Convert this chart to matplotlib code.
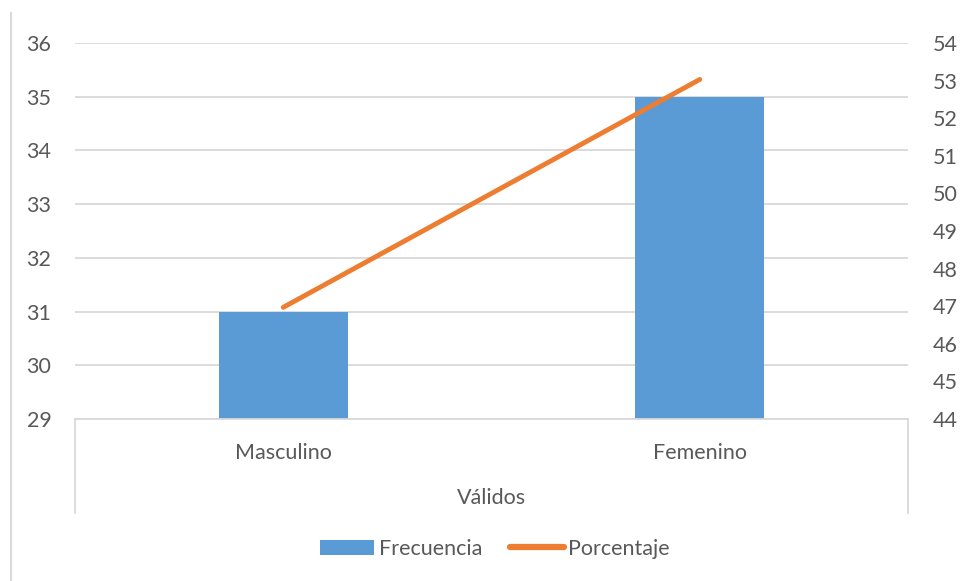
import matplotlib.pyplot as plt
from matplotlib.lines import Line2D

# Datos de la grafica
categorias = ['Masculino', 'Femenino']
grupo = 'Válidos'
frecuencia = [31, 35]
porcentaje = [46.97, 53.03]

azul = '#5b9bd5'
naranja = '#ed7d31'
gris_texto = '#595959'
gris_linea = '#d9d9d9'

plt.rcParams['font.family'] = ['Lato', 'DejaVu Sans']
tam = 15.5

fig = plt.figure(figsize=(9.6, 5.81), dpi=100)
W, H = 960, 581

def fx(px):
    return px / W

def fy(py):
    return 1 - py / H

ax = fig.add_axes([fx(75), fy(419), fx(908) - fx(75), fy(43) - fy(419)])
x = range(len(categorias))
ax.bar(x, frecuencia, width=0.31, color=azul, label='Frecuencia', zorder=2)
ax.set_ylim(29, 36)
ax.set_xlim(-0.5, 1.5)
ax.set_yticks(range(29, 37))
ax.grid(axis='y', color=gris_linea, linewidth=1.3, zorder=0)
ax.set_axisbelow(True)
for lado in ['top', 'right', 'left', 'bottom']:
    ax.spines[lado].set_visible(False)
ax.tick_params(axis='y', length=0, pad=17, labelsize=tam, labelcolor=gris_texto)
ax.set_xticks([])

ax2 = ax.twinx()
ax2.plot(x, porcentaje, color=naranja, linewidth=3.5, solid_capstyle='round', label='Porcentaje')
ax2.set_ylim(44, 54)
ax2.set_yticks(range(44, 55))
for lado in ['top', 'right', 'left', 'bottom']:
    ax2.spines[lado].set_visible(False)
ax2.tick_params(axis='y', length=0, pad=18, labelsize=tam, labelcolor=gris_texto)

# Eje de categorias de varios niveles
fig.add_artist(Line2D([fx(75), fx(908)], [fy(419), fy(419)], color=gris_linea, linewidth=1.3))
fig.add_artist(Line2D([fx(75), fx(75)], [fy(419), fy(513)], color=gris_linea, linewidth=1.3))
fig.add_artist(Line2D([fx(908), fx(908)], [fy(419), fy(513)], color=gris_linea, linewidth=1.3))
for i, cat in enumerate(categorias):
    ax.text(i, -0.09, cat, transform=ax.get_xaxis_transform(), ha='center', va='center',
            fontsize=tam, color=gris_texto)
ax.text(0.5, -0.21, grupo, transform=ax.transAxes, ha='center', va='center',
        fontsize=tam, color=gris_texto)

# Borde izquierdo del area del grafico
fig.add_artist(Line2D([fx(11), fx(11)], [fy(13), fy(581)], color=gris_linea, linewidth=1.5))

h1, l1 = ax.get_legend_handles_labels()
h2, l2 = ax2.get_legend_handles_labels()
leg = fig.legend(h1 + h2, l1 + l2, loc='center', bbox_to_anchor=(fx(495), fy(549)), ncol=2,
                 frameon=False, fontsize=tam, labelcolor=gris_texto, handlelength=2.5,
                 handletextpad=0.2, columnspacing=1.3)
leg.get_lines()[0].set_linewidth(4.5)

fig.savefig('out.png', dpi=100)
